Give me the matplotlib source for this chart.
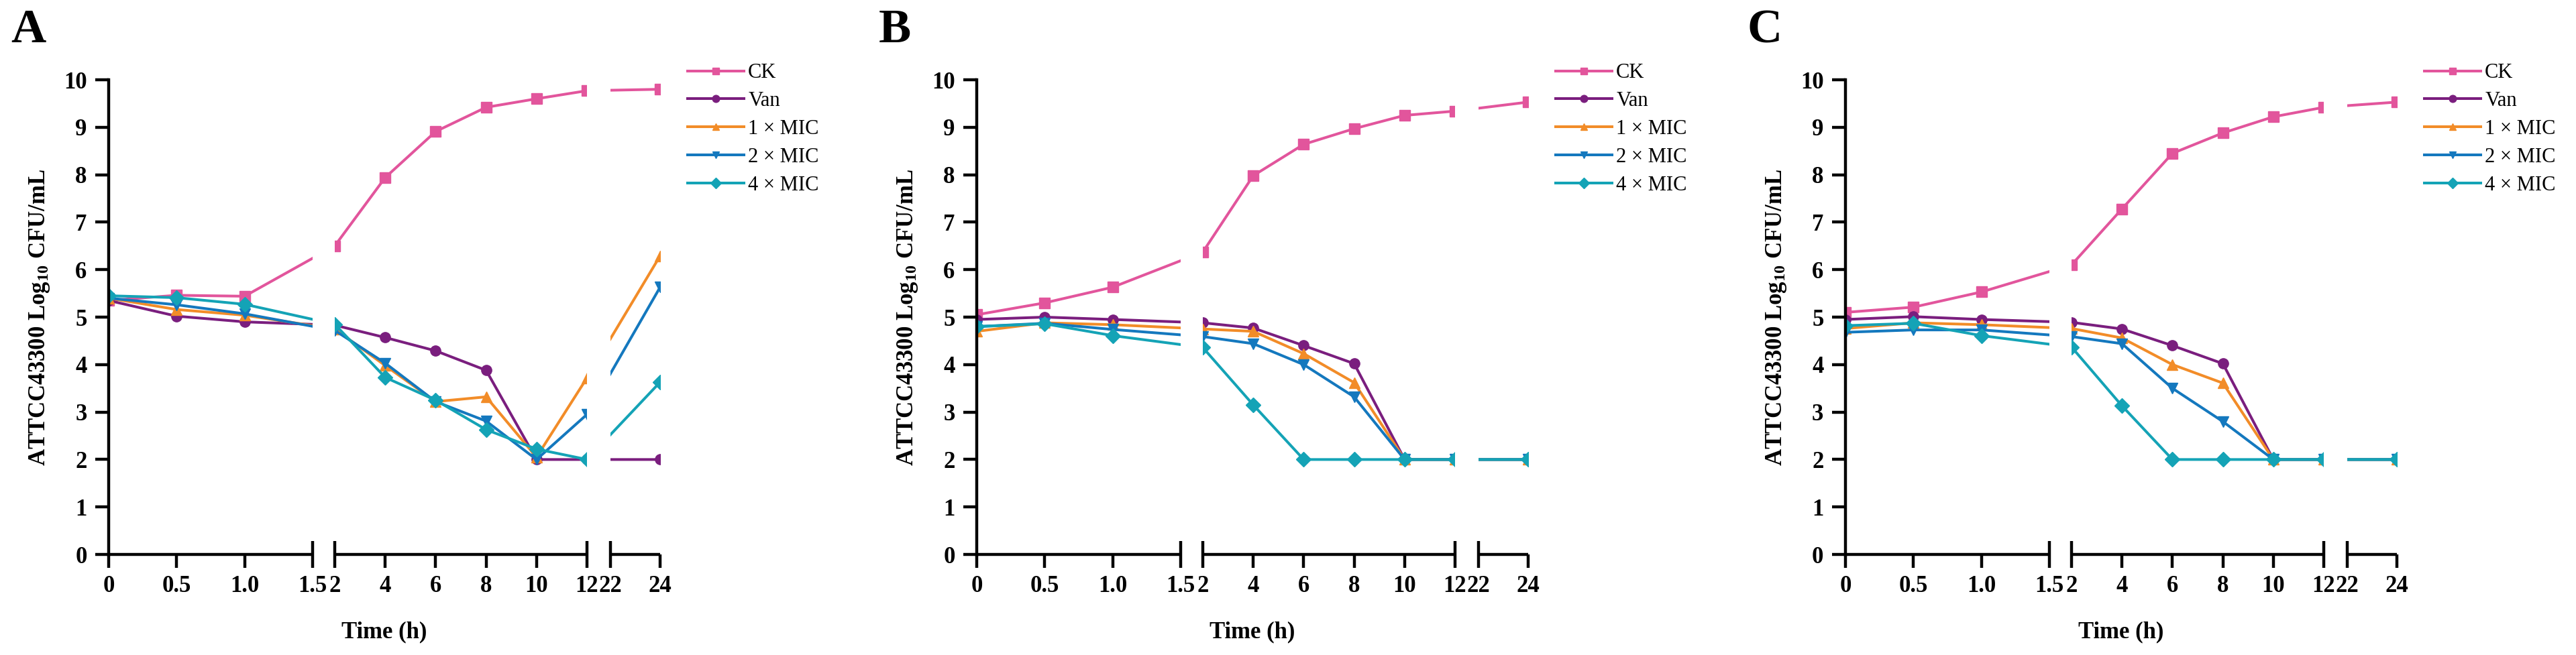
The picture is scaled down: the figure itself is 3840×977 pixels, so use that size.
import numpy as np
import matplotlib
matplotlib.use("Agg")
import matplotlib.pyplot as plt

plt.rcParams['font.family'] = ['Liberation Serif', 'DejaVu Serif']
plt.rcParams['mathtext.fontset'] = 'custom'
plt.rcParams['mathtext.rm'] = 'Liberation Serif:bold'
plt.rcParams['mathtext.it'] = 'Liberation Serif:bold'
plt.rcParams['mathtext.bf'] = 'Liberation Serif:bold'

# sampling times (h)
times = [0, 0.5, 1, 2, 4, 6, 8, 10, 12, 24]
labels = ['CK', 'Van', '1 \u00d7 MIC', '2 \u00d7 MIC', '4 \u00d7 MIC']
colors = ['#E2559C', '#7A1E7E', '#F28C28', '#1478BE', '#14A3B6']
markers = ['s', 'o', '^', 'v', 'D']

# panel A
ck_a = [5.35, 5.46, 5.44, 6.50, 7.94, 8.91, 9.42, 9.60, 9.77, 9.80]
van_a = [5.35, 5.02, 4.90, 4.83, 4.57, 4.29, 3.88, 2.0, 2.0, 2.0]
mic1_a = [5.40, 5.16, 5.04, 4.75, 3.98, 3.22, 3.32, 2.05, 3.72, 6.29]
mic2_a = [5.40, 5.26, 5.07, 4.72, 4.03, 3.22, 2.81, 2.0, 2.95, 5.63]
mic4_a = [5.45, 5.41, 5.27, 4.85, 3.73, 3.25, 2.63, 2.22, 2.0, 3.63]

# panel B
ck_b = [5.05, 5.30, 5.63, 6.37, 7.98, 8.64, 8.97, 9.25, 9.34, 9.53]
van_b = [4.95, 5.00, 4.95, 4.88, 4.77, 4.40, 4.02, 2.0, 2.0, 2.0]
mic1_b = [4.70, 4.88, 4.84, 4.75, 4.70, 4.23, 3.62, 2.0, 2.0, 2.0]
mic2_b = [4.80, 4.87, 4.74, 4.59, 4.44, 4.00, 3.32, 2.0, 2.0, 2.0]
mic4_b = [4.80, 4.86, 4.61, 4.36, 3.15, 2.0, 2.0, 2.0, 2.0, 2.0]

# panel C
ck_c = [5.10, 5.21, 5.53, 6.10, 7.28, 8.45, 8.88, 9.22, 9.42, 9.53]
van_c = [4.95, 5.01, 4.95, 4.89, 4.75, 4.40, 4.02, 2.0, 2.0, 2.0]
mic1_c = [4.76, 4.88, 4.84, 4.76, 4.56, 4.00, 3.61, 2.0, 2.0, 2.0]
mic2_c = [4.68, 4.73, 4.73, 4.59, 4.44, 3.50, 2.80, 2.0, 2.0, 2.0]
mic4_c = [4.82, 4.87, 4.61, 4.37, 3.13, 2.0, 2.0, 2.0, 2.0, 2.0]

panels = [('A', [ck_a, van_a, mic1_a, mic2_a, mic4_a]),
          ('B', [ck_b, van_b, mic1_b, mic2_b, mic4_b]),
          ('C', [ck_c, van_c, mic1_c, mic2_c, mic4_c])]

# broken time axis: 0-1.5 | 2-12 | 22-24
brk_t = [0, 1.5, 2, 12, 22, 24]
brk_p = [0, 304, 337, 713, 748, 822]


def pos(t):
    return np.interp(t, brk_t, brk_p)


major_t = [0, 0.5, 1.0, 4, 6, 8, 10, 24]
major_lab = ['0', '0.5', '1.0', '4', '6', '8', '10', '24']
minor_t = [1.5, 2, 12, 22]
minor_lab = ['1.5', '2', '12', '22']

W, H = 3840, 977
fig = plt.figure(figsize=(W / 100, H / 100), dpi=100)

ax_left = [162, 1456, 2751]
lw_ax = 3.2

for k, (letter, series) in enumerate(panels):
    x0 = ax_left[k]
    ax = fig.add_axes([x0 / W, (H - 827) / H, 822 / W, 708 / H])
    for vals, lab, c, m in zip(series, labels, colors, markers):
        ax.plot(pos(times), vals, color=c, marker=m, ms=11, lw=2.9,
                label=lab, zorder=3)
    # blank the gaps of the broken axis
    ax.axvspan(pos(1.5), pos(2), color='white', zorder=4, lw=0)
    ax.axvspan(pos(12), pos(22), color='white', zorder=4, lw=0)

    ax.set_xlim(pos(0), pos(24))
    ax.set_ylim(0, 10)
    ax.set_yticks(range(0, 11))
    ax.set_xticks(pos(major_t))
    ax.set_xticklabels(major_lab)
    ax.set_xticks(pos(minor_t), minor=True)
    ax.set_xticklabels(minor_lab, minor=True)

    for s in ['top', 'right', 'bottom']:
        ax.spines[s].set_visible(False)
    ax.spines['left'].set_linewidth(lw_ax)
    ax.spines['left'].set_zorder(10)
    for a, b in [(0, 1.5), (2, 12), (22, 24)]:
        ax.plot([pos(a), pos(b)], [0, 0], color='black', lw=lw_ax,
                solid_capstyle='butt', clip_on=False, zorder=10)

    ax.tick_params(axis='y', direction='out', length=14.4, width=lw_ax,
                   pad=9, labelsize=25)
    ax.tick_params(axis='x', which='major', direction='out', length=14.4,
                   width=lw_ax, pad=8, labelsize=25)
    ax.tick_params(axis='x', which='minor', direction='inout', length=28.8,
                   width=lw_ax, pad=8, labelsize=25)
    for t in ax.get_xticklabels(which='both') + ax.get_yticklabels():
        t.set_fontweight('bold')
    ax.xaxis.set_zorder(10)
    ax.yaxis.set_zorder(10)

    leg = ax.legend(loc='upper left', bbox_to_anchor=(863 / 822, 1.035),
                    frameon=False, borderpad=0, borderaxespad=0,
                    handlelength=2.75, handletextpad=0.2, labelspacing=0.42,
                    markerscale=0.7, prop={'family': 'Liberation Serif', 'size': 22})

    fig.text((16 + x0 - 162) / W, (H - 63) / H, letter, fontsize=52,
             fontweight='bold', ha='left', va='baseline')
    fig.text((59 + x0 - 162) / W, (H - 473) / H,
             'ATTCC43300 Log$_{10}$ CFU/mL', rotation=90, fontsize=25,
             fontweight='bold', ha='center', va='center')
    fig.text((x0 + 411) / W, (H - 943) / H, 'Time (h)', fontsize=25,
             fontweight='bold', ha='center', va='center')

fig.savefig('out.png', dpi=100, facecolor='white')
